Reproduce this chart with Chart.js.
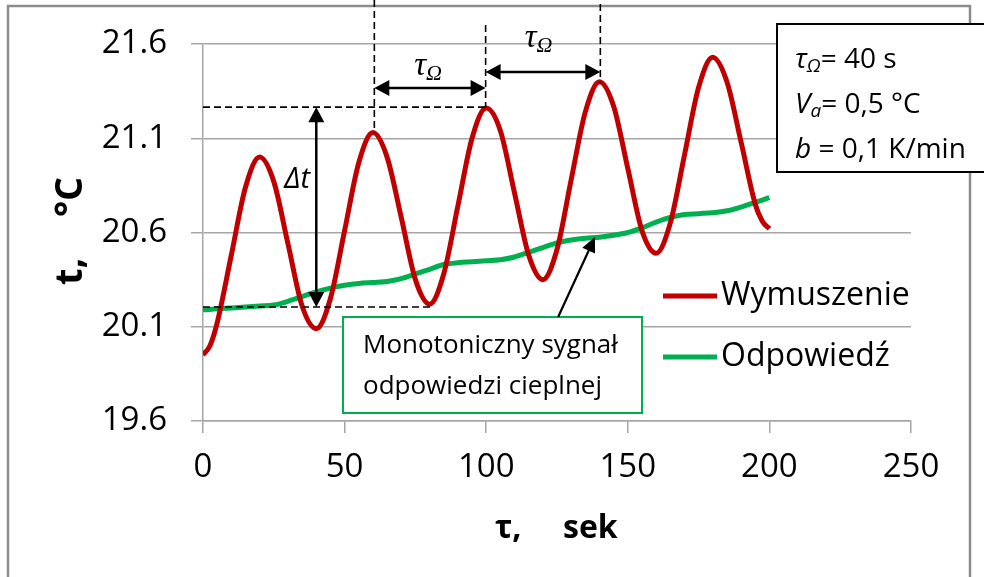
<!DOCTYPE html>
<html>
<head>
<meta charset="utf-8">
<script src="https://cdn.jsdelivr.net/npm/chart.js@4.4.1/dist/chart.umd.min.js"></script>
<style>
	html, body { margin: 0; padding: 0; background: #fff; }
</style>
</head>
<body>
<canvas id="chart" width="984" height="577"></canvas>
<script>
// czas, s
const times = [0, 2.5, 5, 10, 15, 20, 25, 30, 35, 40, 45, 50, 55, 60, 65, 70, 75, 80, 85, 90, 95, 100,
	105, 110, 115, 120, 125, 130, 135, 140, 145, 150, 155, 160, 165, 170, 175, 180, 185, 190, 195, 197.5, 200];
// wymuszenie (czerwona)
const forcing = [19.95, 20.00, 20.12, 20.48, 20.84, 21.00, 20.87, 20.54, 20.21, 20.09, 20.25, 20.61,
	20.97, 21.13, 21.00, 20.68, 20.35, 20.22, 20.38, 20.74, 21.10, 21.26,
	21.14, 20.81, 20.48, 20.35, 20.51, 20.88, 21.24, 21.40, 21.27, 20.94,
	20.61, 20.49, 20.65, 21.01, 21.37, 21.53, 21.40, 21.08, 20.75, 20.66, 20.62];
// odpowiedz (zielona)
const response = [20.19, 20.192, 20.195, 20.20, 20.205, 20.21, 20.215, 20.235, 20.26, 20.285, 20.305, 20.32,
	20.33, 20.335, 20.34, 20.355, 20.38, 20.405, 20.43, 20.44, 20.445, 20.45,
	20.455, 20.47, 20.495, 20.52, 20.545, 20.56, 20.57, 20.575, 20.585, 20.60,
	20.625, 20.655, 20.68, 20.695, 20.70, 20.705, 20.715, 20.735, 20.76, 20.772, 20.785];

const xTicks = [0, 50, 100, 150, 200, 250];
const yTicks = [19.6, 20.1, 20.6, 21.1, 21.6];
const seriesNames = ["Wymuszenie", "Odpowiedź"];

const FONT = "'Open Sans'";
const gridColor = "#a6a6a6";

function runs(ctx, x, y, parts) {
	// parts: [text, font, dy]
	let cx = x;
	parts.forEach(([t, f, dy]) => {
		ctx.font = f;
		ctx.fillText(t, cx, y + (dy || 0));
		cx += ctx.measureText(t).width;
	});
	return cx - x;
}

function runsWidth(ctx, parts) {
	let w = 0;
	parts.forEach(([t, f]) => {
		ctx.font = f;
		w += ctx.measureText(t).width;
	});
	return w;
}

function head(ctx, x1, y1, x2, y2, len, half) {
	const a = Math.atan2(y2 - y1, x2 - x1);
	const c = Math.cos(a), s = Math.sin(a);
	ctx.beginPath();
	ctx.moveTo(x2, y2);
	ctx.lineTo(x2 - len * c + half * s, y2 - len * s - half * c);
	ctx.lineTo(x2 - len * c - half * s, y2 - len * s + half * c);
	ctx.closePath();
	ctx.fill();
}

function arrow(ctx, x1, y1, x2, y2, both, len, half) {
	const a = Math.atan2(y2 - y1, x2 - x1);
	const c = Math.cos(a), s = Math.sin(a);
	ctx.beginPath();
	ctx.moveTo(both ? x1 + (len - 1) * c : x1, both ? y1 + (len - 1) * s : y1);
	ctx.lineTo(x2 - (len - 1) * c, y2 - (len - 1) * s);
	ctx.stroke();
	head(ctx, x1, y1, x2, y2, len, half);
	if (both) head(ctx, x2, y2, x1, y1, len, half);
}

function dashed(ctx, x1, y1, x2, y2) {
	ctx.beginPath();
	ctx.moveTo(x1, y1);
	ctx.lineTo(x2, y2);
	ctx.stroke();
}

const frame = {
	id: "frame",
	beforeDraw(chart) {
		const ctx = chart.ctx;
		ctx.save();
		ctx.fillStyle = "#fff";
		ctx.fillRect(0, 0, chart.width, chart.height);
		ctx.strokeStyle = "#8c8c8c";
		ctx.lineWidth = 2.5;
		ctx.strokeRect(8, 6, 962, 600);
		ctx.restore();
	},
};

const notes = {
	id: "notes",
	afterDatasetsDraw(chart) {
		const { ctx, scales } = chart;
		const X = (v) => scales.x.getPixelForValue(v);
		const Y = (v) => scales.y.getPixelForValue(v);
		ctx.save();

		// linie przerywane
		ctx.strokeStyle = "#000";
		ctx.lineWidth = 1.6;
		ctx.setLineDash([7, 4]);
		dashed(ctx, X(60.5), 0, X(60.5), Y(21.13));
		dashed(ctx, X(99.8), 25, X(99.8), Y(21.265));
		dashed(ctx, X(140.3), 4, X(140.3), Y(21.39));
		dashed(ctx, X(0), Y(21.265), X(99.8), Y(21.265));
		dashed(ctx, X(0), Y(20.205), X(81), Y(20.205));
		ctx.setLineDash([]);

		// strzalki
		ctx.fillStyle = "#000";
		ctx.lineWidth = 2.5;
		arrow(ctx, X(40), Y(20.205), X(40), Y(21.265), true, 15, 8);
		arrow(ctx, X(60.5), Y(21.367), X(99.8), Y(21.367), true, 15, 8);
		arrow(ctx, X(99.8), Y(21.452), X(140.3), Y(21.452), true, 15, 8);

		// etykiety tau_Omega
		const tau = [["τ", "italic 33px 'Liberation Serif'"], ["Ω", "italic 22px 'Liberation Serif'", 5]];
		ctx.textBaseline = "alphabetic";
		ctx.textAlign = "left";
		let w = runsWidth(ctx, tau);
		runs(ctx, X(79.5) - w / 2, Y(21.435), tau);
		runs(ctx, X(118.5) - w / 2, Y(21.584), tau);

		// Delta t
		ctx.font = "italic 29px " + FONT;
		ctx.textAlign = "right";
		ctx.fillText("Δt", X(37.8), Y(20.836));
		ctx.textAlign = "left";

		// pole z opisem
		const bx = 343, by = 317, bw = 299, bh = 96;
		ctx.fillStyle = "#fff";
		ctx.fillRect(bx, by, bw, bh);
		ctx.strokeStyle = "#00b050";
		ctx.lineWidth = 2;
		ctx.strokeRect(bx, by, bw, bh);
		ctx.fillStyle = "#000";
		ctx.font = "26px " + FONT;
		ctx.fillText("Monotoniczny sygnał", bx + 20, 353);
		ctx.fillText("odpowiedzi cieplnej", bx + 20, 394);

		ctx.strokeStyle = "#000";
		ctx.lineWidth = 2.2;
		arrow(ctx, X(125.4), by, X(138.4), Y(20.576), false, 15, 7);

		ctx.restore();
	},
	afterDraw(chart) {
		const ctx = chart.ctx;
		ctx.save();
		ctx.fillStyle = "#000";
		ctx.textBaseline = "alphabetic";
		ctx.textAlign = "left";

		// tytul osi Y
		ctx.save();
		ctx.translate(82, 285);
		ctx.rotate(-Math.PI / 2);
		ctx.font = "bold 38px " + FONT;
		ctx.fillText("t,", 0, 0);
		ctx.fillText("°", 68, 0);
		ctx.fillText("C", 84, 0);
		ctx.restore();

		// tytul osi X
		ctx.font = "bold 32px " + FONT;
		ctx.fillText("τ,", 495, 538);
		ctx.fillText("sek", 563, 538);

		// legenda
		chart.data.datasets.forEach((ds, i) => {
			const ly = 296 + i * 61;
			ctx.strokeStyle = ds.borderColor;
			ctx.lineWidth = 5;
			ctx.beginPath();
			ctx.moveTo(663, ly);
			ctx.lineTo(717, ly);
			ctx.stroke();
			ctx.font = "32px " + FONT;
			ctx.textBaseline = "middle";
			ctx.fillText(ds.label, 721, ly);
		});
		ctx.textBaseline = "alphabetic";

		// ramka z parametrami
		ctx.fillStyle = "#fff";
		ctx.fillRect(777, 24, 230, 148);
		ctx.strokeStyle = "#000";
		ctx.lineWidth = 2;
		ctx.strokeRect(777, 24, 230, 148);
		ctx.fillStyle = "#000";
		const n = "28px " + FONT, it = "italic 28px " + FONT, sub = "italic 19px " + FONT;
		runs(ctx, 795, 68, [["τ", it], ["Ω", sub, 4], ["= 40 s", n]]);
		runs(ctx, 795, 113, [["V", it], ["a", sub, 4], ["= 0,5 °C", n]]);
		runs(ctx, 795, 158, [["b", it], [" = 0,1 K/min", n]]);
		ctx.restore();
	},
};

new Chart(document.getElementById("chart"), {
	type: "line",
	data: {
		datasets: [
			{
				label: seriesNames[0],
				data: times.map((t, i) => ({ x: t, y: forcing[i] })),
				borderColor: "#c00000",
				borderWidth: 5,
				pointRadius: 0,
				cubicInterpolationMode: "monotone",
			},
			{
				label: seriesNames[1],
				data: times.map((t, i) => ({ x: t, y: response[i] })),
				borderColor: "#00b050",
				borderWidth: 5,
				pointRadius: 0,
				cubicInterpolationMode: "monotone",
			},
		],
	},
	options: {
		responsive: false,
		animation: false,
		devicePixelRatio: 1,
		layout: { padding: { left: 0, top: 44, right: 73, bottom: 0 } },
		plugins: { legend: { display: false }, tooltip: { enabled: false } },
		scales: {
			x: {
				type: "linear",
				min: 0,
				max: 250,
				afterBuildTicks: (s) => { s.ticks = xTicks.map((v) => ({ value: v })); },
				afterFit: (s) => { s.height = 156; },
				grid: { drawOnChartArea: false, tickLength: 12, color: gridColor, lineWidth: 1.5 },
				border: { color: gridColor, width: 1.5 },
				ticks: { color: "#000", font: { family: FONT, size: 33 }, padding: 15, maxRotation: 0 },
			},
			y: {
				min: 19.6,
				max: 21.6,
				afterBuildTicks: (s) => { s.ticks = yTicks.map((v) => ({ value: v })); },
				afterFit: (s) => { s.width = 203; },
				grid: { tickLength: 12, color: gridColor, lineWidth: 1.5 },
				border: { color: gridColor, width: 1.5 },
				ticks: {
					color: "#000",
					font: { family: FONT, size: 33 },
					padding: 24,
					callback: (v) => v.toFixed(1),
				},
			},
		},
	},
	plugins: [frame, notes],
});
</script>
</body>
</html>
